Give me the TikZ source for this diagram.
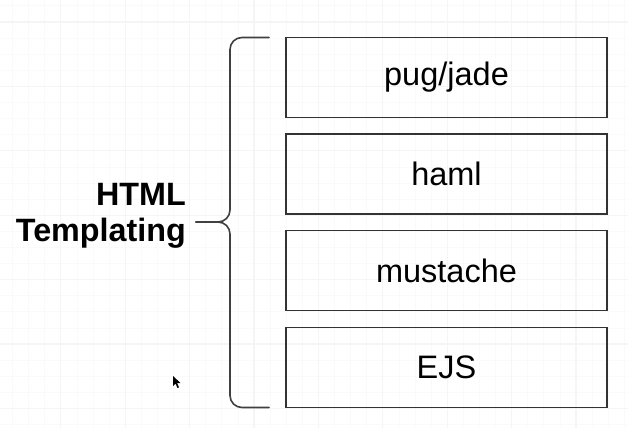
\documentclass[tikz,border=0pt]{standalone}
\usepackage{fontspec}
\setmainfont{Liberation Sans}
\begin{document}
\begin{tikzpicture}[x=1pt,y=-1pt,
  itembox/.style={draw=black!80,line width=1.6pt,minimum width=321pt,minimum height=80pt,inner sep=0pt,font=\fontsize{32.5}{36}\selectfont},
  bracestyle/.style={draw=black!75,line width=1.6pt,rounded corners=12pt},
  minorgrid/.style={draw=black!2,line width=0.8pt},
  majorgrid/.style={draw=black!4,line width=1.2pt}]
\useasboundingbox (0,0) rectangle (628,428);
\fill[white] (0,0) rectangle (628,428);
% grid
\foreach \i in {0,...,39} {
  \pgfmathsetmacro\xx{12.5+16.1*\i}
  \draw[minorgrid] (\xx,0) -- (\xx,428);
}
\foreach \j in {0,...,27} {
  \pgfmathsetmacro\yy{5.9+16.1*\j}
  \draw[minorgrid] (0,\yy) -- (628,\yy);
}
\foreach \i in {0,...,9} {
  \pgfmathsetmacro\xx{-3.6+64.4*\i}
  \draw[majorgrid] (\xx,0) -- (\xx,428);
}
\foreach \j in {0,...,6} {
  \pgfmathsetmacro\yy{22+64.4*\j}
  \draw[majorgrid] (0,\yy) -- (628,\yy);
}
% boxes
\node[itembox] (b1) at (446.5,77.5) {pug/jade};
\node[itembox] (b2) at (446.5,174) {haml};
\node[itembox] (b3) at (446.5,270.5) {mustache};
\node[itembox] (b4) at (446.5,367.5) {EJS};
% brace
\coordinate (bt) at (269,37.5);
\coordinate (bb) at (269,407.5);
\coordinate (tip) at (196,222);
\draw[bracestyle,line cap=round] (bt) -- (230,37.5) -- (230,222) -- (tip);
\draw[bracestyle,line cap=round] (tip) -- (230,222) -- (230,407.5) -- (bb);
% label
\node[anchor=east,align=right,font=\fontsize{32.3}{36}\selectfont\bfseries,inner sep=0pt] (lbl) at (186,216) {HTML\\Templating};
% cursor
\fill[black] (173,376) -- (173,386) -- (175.5,383.5) -- (177.5,388) -- (179,387.3) -- (177,383) -- (180.5,383) -- cycle;
\end{tikzpicture}
\end{document}
